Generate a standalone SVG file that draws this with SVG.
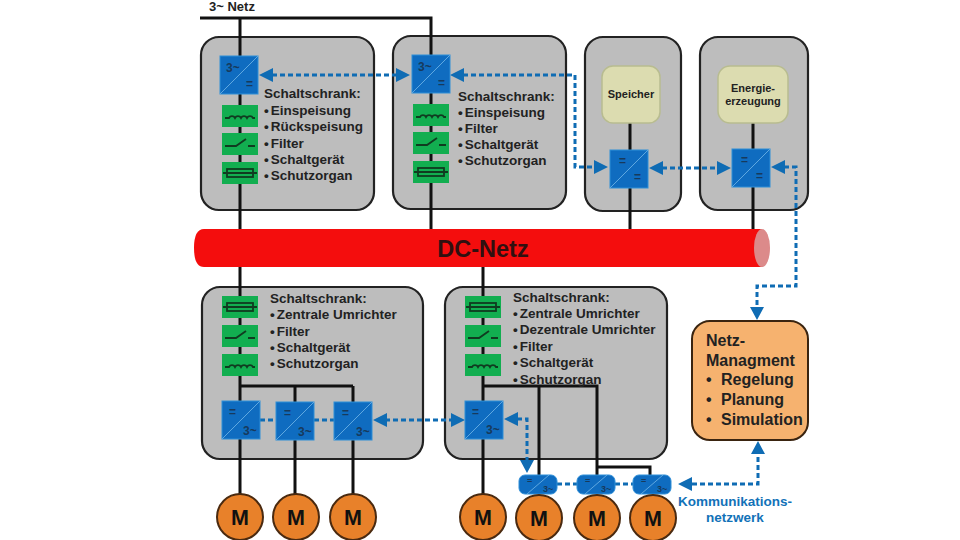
<svg xmlns="http://www.w3.org/2000/svg" width="960" height="540" viewBox="0 0 960 540">
<style>
text{font-family:"Liberation Sans",Arial,sans-serif;font-weight:bold;fill:#222}
.cab{fill:#bdbdbd;stroke:#222;stroke-width:2.2}
.w{fill:none;stroke:#111;stroke-width:3}
.t{font-size:13.500px}
.c{fill:#0f6cc0;stroke:#2f8fd8;stroke-width:1}
.dg{stroke:#5fa8e0;stroke-width:1}
.g{fill:#12ae50}
.sym{fill:none;stroke:#103b20;stroke-width:1.800}
.d{fill:none;stroke:#0f6cb4;stroke-width:3;stroke-dasharray:5 3}
.h{fill:#0f6cb4}
.s{font-size:9px;fill:#173a5c}
.l{font-size:12px;fill:#173a5c}
.m{fill:#e8812a;stroke:#4a2a10;stroke-width:2}
.ml{font-size:21.500px;fill:#111;text-anchor:middle}
.y{fill:#dcdcb0;stroke:#b8bc90;stroke-width:1.500}
.k{font-size:13.500px;text-anchor:middle;fill:#1272b8}
.n{font-size:16px}
</style>
<defs>
<g id="ind"><rect class="g" width="36" height="22"/><path class="sym" d="M3 13H7a3.500 4 0 0 1 6 0a3.500 4 0 0 1 6 0a3.500 4 0 0 1 6 0a3.500 4 0 0 1 6 0H33"/></g>
<g id="swi"><rect class="g" width="36" height="22"/><path class="sym" d="M3 13H14L24 6M26 13H33"/></g>
<g id="fus"><rect class="g" width="36" height="22"/><rect class="sym" x="5" y="7" width="26" height="8"/><path class="sym" d="M1 11H35"/></g>
<g id="conv"><rect class="c" width="38" height="38"/><path class="dg" d="M0 38L38 0"/></g>
<g id="small"><rect class="c" width="38" height="19" rx="6"/><path class="dg" d="M8 19L30 0"/><text class="s" x="8" y="9">=</text><text class="s" x="24" y="17">3~</text></g>
</defs>

<g id="cabinet-1"><rect class="cab" x="201" y="37" width="173" height="173" rx="18"/></g>
<g id="cabinet-2"><rect class="cab" x="393" y="36" width="173" height="173" rx="18"/></g>
<g id="cabinet-3"><rect class="cab" x="585" y="37" width="96" height="174" rx="18"/></g>
<g id="cabinet-4"><rect class="cab" x="700" y="37" width="108" height="173" rx="18"/></g>
<g id="cabinet-5"><rect class="cab" x="202" y="287" width="221" height="172" rx="18"/></g>
<g id="cabinet-6"><rect class="cab" x="445" y="287" width="222" height="172" rx="18"/></g>

<g id="connectors">
<path class="w" d="M200 18H431V56M240 18V56M240 94V229M431 93V229"/>
<path class="w" d="M630 123V229M753 123V229"/>
<path class="w" d="M240 267V497M295 386V497M353 386V497M240 386H353"/>
<path class="w" d="M483 267V497M483 386H597V476M539 386V476M597 467H650V476"/>
<path class="d" d="M272 75H398"/>
<path class="d" d="M463 75H575V167H596"/>
<path class="d" d="M662 168H718"/>
<path class="d" d="M784 167H796V286H757V307"/>
<path class="d" d="M385 420H452"/>
<path class="d" d="M260 420H276M314 420H334"/>
<path class="d" d="M517 419H527V460"/>
<path class="d" d="M557 484H577M615 484H633"/>
<path class="d" d="M692 484H758V453"/>
<path class="h" d="M259 75L273 68V82ZM410 75L396 68V82ZM450 75L464 68V82ZM608 167L594 160V174ZM649 168L663 161V175ZM731 168L717 161V175ZM771 167L785 160V174ZM757 320L750 307H764ZM373 420L387 413V427ZM465 420L451 413V427ZM504 419L518 412V426ZM527 473L520 460H534ZM678 484L692 477V491ZM758 441L751 454H765Z"/>
</g>

<g id="dc-netz">
<path d="M204 229H762V267H204Q194 267 194 248Q194 229 204 229Z" fill="#f40d0d"/>
<ellipse cx="762" cy="248" rx="8" ry="19" fill="#dc8a8a"/>
<text x="483" y="257" font-size="23.500" text-anchor="middle" style="fill:#301010">DC-Netz</text>
</g>

<text x="209" y="11" font-size="13">3~ Netz</text>

<g id="c1-parts">
<use href="#conv" x="220" y="56"/><text class="l" x="226" y="72">3~</text><text class="l" x="246" y="88">=</text>
<use href="#ind" x="222" y="105"/><use href="#swi" x="222" y="133"/><use href="#fus" x="222" y="162"/>
<text class="t" x="264" y="98">Schaltschrank:</text>
<text class="t" x="264" y="115">•<tspan dx="2">Einspeisung</tspan></text>
<text class="t" x="264" y="131">•<tspan dx="2">Rückspeisung</tspan></text>
<text class="t" x="264" y="148">•<tspan dx="2">Filter</tspan></text>
<text class="t" x="264" y="164">•<tspan dx="2">Schaltgerät</tspan></text>
<text class="t" x="264" y="180">•<tspan dx="2">Schutzorgan</tspan></text>
</g>
<g id="c2-parts">
<use href="#conv" x="412" y="55"/><text class="l" x="418" y="71">3~</text><text class="l" x="438" y="87">=</text>
<use href="#ind" x="413" y="104"/><use href="#swi" x="413" y="132"/><use href="#fus" x="413" y="161"/>
<text class="t" x="458" y="101">Schaltschrank:</text>
<text class="t" x="458" y="117">•<tspan dx="2">Einspeisung</tspan></text>
<text class="t" x="458" y="133">•<tspan dx="2">Filter</tspan></text>
<text class="t" x="458" y="149">•<tspan dx="2">Schaltgerät</tspan></text>
<text class="t" x="458" y="165">•<tspan dx="2">Schutzorgan</tspan></text>
</g>
<g id="speicher">
<rect class="y" x="602" y="66" width="58" height="57" rx="11"/>
<text x="631" y="98" font-size="11" text-anchor="middle">Speicher</text>
<use href="#conv" x="610" y="150"/><text class="l" x="619" y="165">=</text><text class="l" x="634" y="181">=</text>
</g>
<g id="energie">
<rect class="y" x="718" y="66" width="70" height="57" rx="12"/>
<text x="753" y="92" font-size="11" text-anchor="middle">Energie-</text>
<text x="753" y="105" font-size="11" text-anchor="middle">erzeugung</text>
<use href="#conv" x="732" y="149"/><text class="l" x="741" y="164">=</text><text class="l" x="756" y="180">=</text>
</g>
<g id="c5-parts">
<use href="#fus" x="222" y="296"/><use href="#swi" x="222" y="325"/><use href="#ind" x="222" y="354"/>
<text class="t" x="270" y="303">Schaltschrank:</text>
<text class="t" x="270" y="319">•<tspan dx="2">Zentrale Umrichter</tspan></text>
<text class="t" x="270" y="336">•<tspan dx="2">Filter</tspan></text>
<text class="t" x="270" y="352">•<tspan dx="2">Schaltgerät</tspan></text>
<text class="t" x="270" y="368">•<tspan dx="2">Schutzorgan</tspan></text>
<use href="#conv" x="222" y="401"/><text class="l" x="229" y="416">=</text><text class="l" x="243" y="435">3~</text>
<use href="#conv" x="276" y="402"/><text class="l" x="284" y="417">=</text><text class="l" x="298" y="436">3~</text>
<use href="#conv" x="334" y="402"/><text class="l" x="342" y="417">=</text><text class="l" x="356" y="436">3~</text>
</g>
<g id="c6-parts">
<use href="#fus" x="465" y="296"/><use href="#swi" x="465" y="325"/><use href="#ind" x="465" y="354"/>
<text class="t" x="513" y="302">Schaltschrank:</text>
<text class="t" x="513" y="318">•<tspan dx="2">Zentrale Umrichter</tspan></text>
<text class="t" x="513" y="334">•<tspan dx="2">Dezentrale Umrichter</tspan></text>
<text class="t" x="513" y="351">•<tspan dx="2">Filter</tspan></text>
<text class="t" x="513" y="367">•<tspan dx="2">Schaltgerät</tspan></text>
<text class="t" x="513" y="384">•<tspan dx="2">Schutzorgan</tspan></text>
<use href="#conv" x="465" y="401"/><text class="l" x="472" y="416">=</text><text class="l" x="486" y="434">3~</text>
</g>
<g id="small-converters">
<use href="#small" x="519" y="475"/><use href="#small" x="577" y="475"/><use href="#small" x="633" y="475"/>
</g>
<g id="motors">
<circle class="m" cx="240" cy="517" r="23"/><text class="ml" x="240" y="524.500">M</text>
<circle class="m" cx="296" cy="517" r="23"/><text class="ml" x="296" y="524.500">M</text>
<circle class="m" cx="353" cy="517" r="23"/><text class="ml" x="353" y="524.500">M</text>
<circle class="m" cx="483" cy="517" r="23"/><text class="ml" x="483" y="524.500">M</text>
<circle class="m" cx="539" cy="518" r="23"/><text class="ml" x="539" y="525.500">M</text>
<circle class="m" cx="597" cy="518" r="23"/><text class="ml" x="597" y="525.500">M</text>
<circle class="m" cx="653" cy="518" r="23"/><text class="ml" x="653" y="525.500">M</text>
</g>
<g id="netz-management">
<rect x="692" y="321" width="116" height="119" rx="18" fill="#f6b26f" stroke="#3a2410" stroke-width="2"/>
<text class="n" x="706" y="346">Netz-</text>
<text class="n" x="706" y="366">Managment</text>
<text class="n" x="706" y="385">•</text><text class="n" x="721" y="385">Regelung</text>
<text class="n" x="706" y="405">•</text><text class="n" x="721" y="405">Planung</text>
<text class="n" x="706" y="425">•</text><text class="n" x="721" y="425">Simulation</text>
</g>
<text class="k" x="735" y="506">Kommunikations-</text>
<text class="k" x="735" y="522">netzwerk</text>
</svg>
